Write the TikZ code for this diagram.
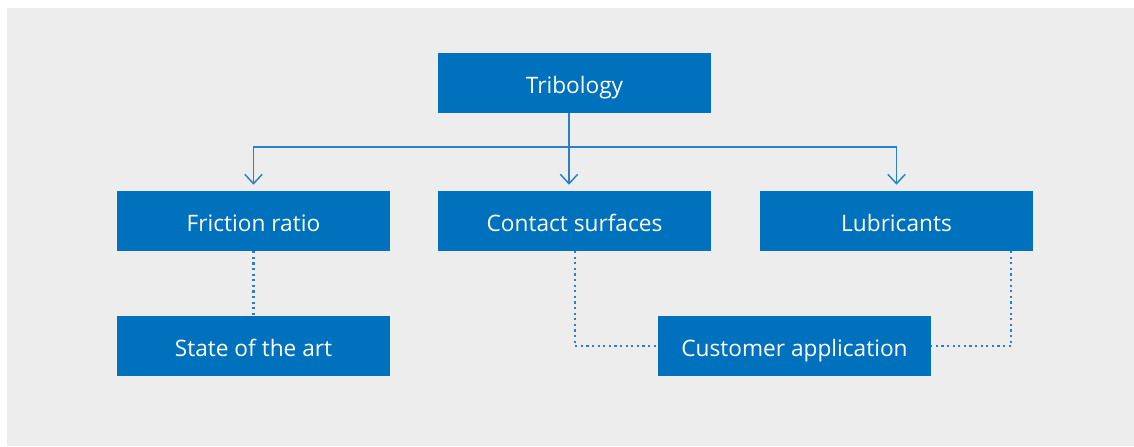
\documentclass[tikz,border=0pt]{standalone}
\usepackage{fontspec}
\setmainfont{Open Sans}
\usetikzlibrary{arrows.meta}
\definecolor{boxblue}{HTML}{0071BC}
\definecolor{lineblue}{HTML}{2A80C2}
\definecolor{bggrey}{HTML}{EDEDED}
\tikzset{
  topicbox/.style={fill=boxblue,text=white,minimum width=204.75pt,minimum height=45pt,
    inner sep=0pt,text height=17pt,text depth=1pt,font=\fontsize{17}{20}\selectfont},
  branch/.style={draw=lineblue,line width=1.1pt},
  branchtip/.style={branch,-{Straight Barb[length=7pt,width=13pt,line width=1.1pt]},shorten >=4.5pt},
  dotlink/.style={draw=lineblue,line width=1.6pt,dash pattern=on 1.6pt off 2.6pt}
}
\begin{document}
\begin{tikzpicture}[x=0.75pt,y=-0.75pt]
  \useasboundingbox (0,0) rectangle (1134,446);
  \fill[bggrey] (7,8) rectangle (1134,446);

  \node[topicbox] (tribo) at (574.5,83) {Tribology};
  \node[topicbox] (fric) at (253.5,221) {Friction ratio};
  \node[topicbox] (contact) at (574.5,221) {Contact surfaces};
  \node[topicbox] (lube) at (896.5,221) {Lubricants};
  \node[topicbox] (state) at (253.5,346) {State of the art};
  \node[topicbox] (cust) at (794.5,346) {Customer application};

  % tree from the top box
  \coordinate (top) at (569,113);
  \coordinate (split) at (569,147);
  \draw[branch] (top) -- (split);
  \draw[branchtip] (split) -| (fric.north);
  \draw[branchtip] (top) -- (top |- contact.north);
  \draw[branchtip] (split) -| (lube.north);

  % dotted links
  \draw[dotlink] (fric.south) -- (state.north);
  \coordinate (cs) at (575,251);
  \coordinate (lb) at (1011,251);
  \draw[dotlink] (cs) |- (cust.west);
  \draw[dotlink] (lb) |- (cust.east);
\end{tikzpicture}
\end{document}
